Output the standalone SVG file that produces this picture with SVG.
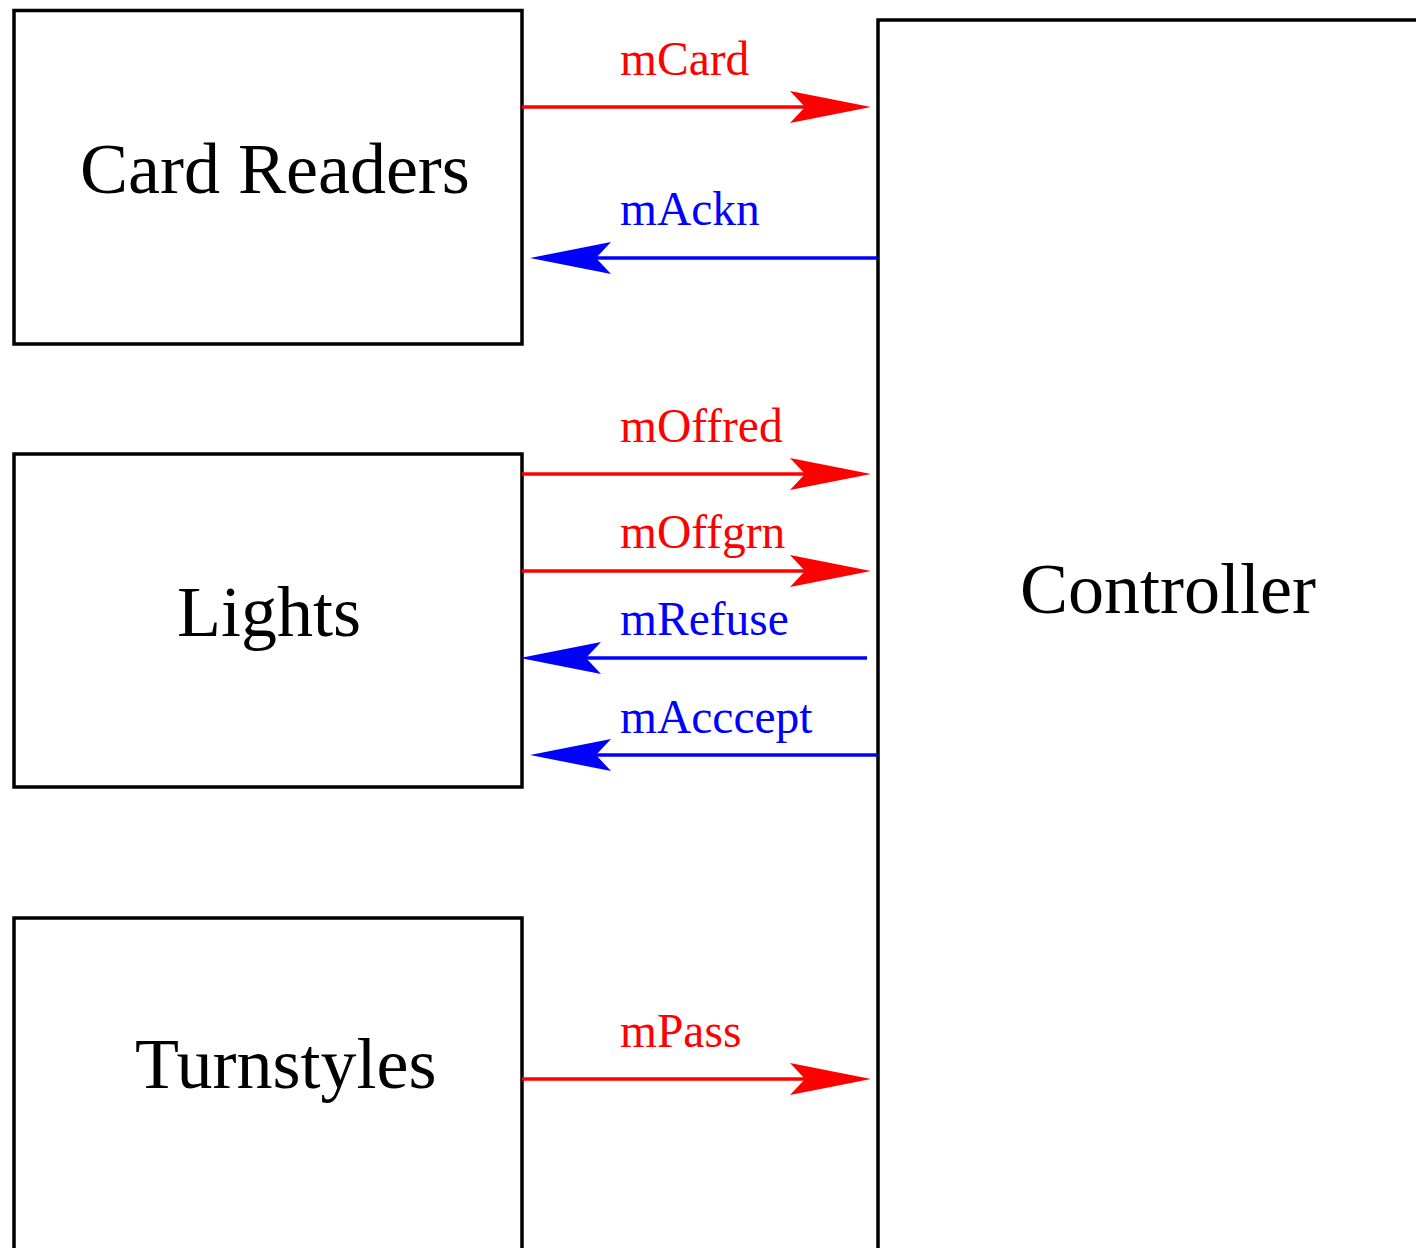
<svg xmlns="http://www.w3.org/2000/svg" width="1416" height="1248" viewBox="0 0 1416 1248">
  <style>
    .box { fill: #ffffff; stroke: #000000; stroke-width: 3.5; }
    .name { font-family: "Liberation Serif", "Times New Roman", serif; font-size: 72px; fill: #000000; }
    .msg { font-family: "Liberation Serif", "Times New Roman", serif; font-size: 47.5px; }
    .out { fill: #ff0000; }
    .in { fill: #0000ff; }
    .wire { fill: none; stroke-width: 3.5; }
    .wire.out { stroke: #ff0000; fill: none; }
    .wire.in { stroke: #0000ff; fill: none; }
  </style>
  <defs>
    <!-- reference point sits at the notch; the tip lies 66px further along -->
    <marker id="headRed" markerUnits="userSpaceOnUse" markerWidth="1" markerHeight="1" refX="0" refY="0" orient="auto" overflow="visible">
      <path d="M66,0 L-15,-16 L0,0 L-15,16 Z" fill="#ff0000"/>
    </marker>
    <marker id="headBlue" markerUnits="userSpaceOnUse" markerWidth="1" markerHeight="1" refX="0" refY="0" orient="auto" overflow="visible">
      <path d="M66,0 L-15,-16 L0,0 L-15,16 Z" fill="#0000ff"/>
    </marker>
  </defs>

  <rect width="1416" height="1248" fill="#ffffff"/>

  <g id="card-readers">
    <rect class="box" x="14" y="10.5" width="508" height="333.5"/>
    <text class="name" x="80" y="193">Card Readers</text>
  </g>

  <g id="lights">
    <rect class="box" x="14" y="454" width="508" height="333"/>
    <text class="name" x="177" y="636">Lights</text>
  </g>

  <g id="turnstyles">
    <rect class="box" x="14" y="918" width="508" height="400"/>
    <text class="name" x="135" y="1088">Turnstyles</text>
  </g>

  <g id="controller">
    <rect class="box" x="878" y="20" width="600" height="1300"/>
    <text class="name" x="1020" y="613">Controller</text>
  </g>

  <g id="connectors">
    <path class="wire out" d="M522,107 H805" marker-end="url(#headRed)"/>
    <text class="msg out" x="620" y="75">mCard</text>

    <path class="wire in" d="M877,258 H596" marker-end="url(#headBlue)"/>
    <text class="msg in" x="620" y="225">mAckn</text>

    <path class="wire out" d="M522,474 H805" marker-end="url(#headRed)"/>
    <text class="msg out" x="620" y="442">mOffred</text>

    <path class="wire out" d="M522,571 H805" marker-end="url(#headRed)"/>
    <text class="msg out" x="620" y="548">mOffgrn</text>

    <path class="wire in" d="M867,658 H586" marker-end="url(#headBlue)"/>
    <text class="msg in" x="620" y="635">mRefuse</text>

    <path class="wire in" d="M878,755 H596" marker-end="url(#headBlue)"/>
    <text class="msg in" x="620" y="733">mAcccept</text>

    <path class="wire out" d="M522,1079 H805" marker-end="url(#headRed)"/>
    <text class="msg out" x="620" y="1047">mPass</text>
  </g>
</svg>
